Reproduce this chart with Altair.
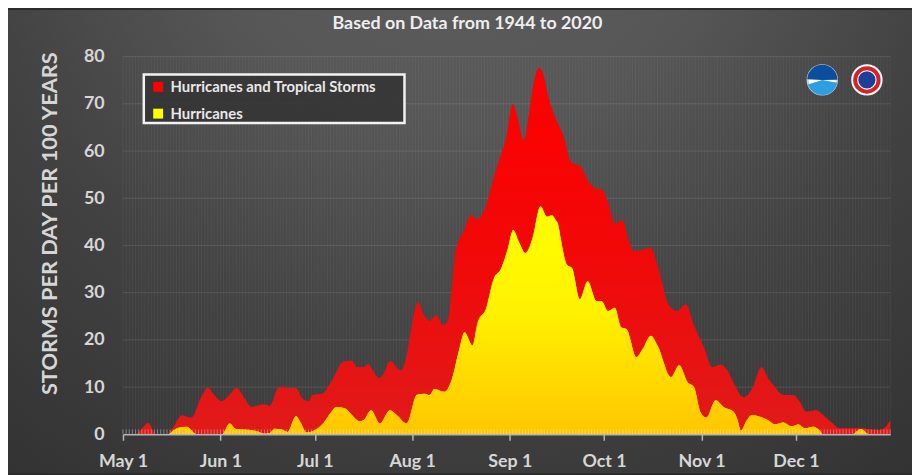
import altair as alt
import pandas as pd

# ---------------- data ----------------
RED_SERIES = "Hurricanes and Tropical Storms"
YEL_SERIES = "Hurricanes"

# day index: 0 = May 1 ... 244 = Dec 31
red_day = [0, 4, 6, 8, 10.5, 14, 16, 18.7, 21.8, 25,
           27, 29, 31.3, 34.5, 36, 38.7, 40.8, 45, 46.6, 49.7,
           52.3, 55, 57, 59.2, 60.2, 63.4, 66.5, 70.2, 72.8, 74.4,
           76.5, 78, 79.1, 81.5, 82.8, 85, 87.5, 88.5, 90.5, 91.7,
           93.8, 95.5, 97.5, 99.6, 101.7, 103.3, 105.9, 108.6, 110.7, 112.5,
           115.4, 118, 120.7, 121.7, 124, 125.4, 127.5, 129, 130.6, 132.4,
           133.5, 135.3, 137.5, 140.6, 141.8, 143.2, 145.3, 148, 150.6, 152.2,
           154, 156.6, 158.8, 160.8, 162.7, 165.3, 167.9, 170, 173.7, 176.3,
           179, 181.6, 184.7, 187.4, 190, 192.1, 194.7, 197.4, 200, 203.1,
           205.2, 207.3, 210, 213.1, 215.2, 217.3, 220.5, 222.6, 225.7, 227.8,
           234, 240.4, 242.5, 244]
red_val = [0, 0, 1.2, 2.4, 0, 0, 1.5, 4.0, 3.5, 8.0,
           9.8, 8.3, 7.0, 8.8, 9.8, 7.6, 5.8, 6.3, 6.0, 10.0,
           9.8, 9.8, 7.6, 7.0, 8.3, 8.6, 11.4, 15.4, 15.6, 14.2,
           14.2, 14.9, 13.9, 11.9, 12.6, 15.5, 13.8, 13.5, 17.5, 22.3,
           27.9, 25.5, 24.0, 25.2, 23.1, 24.0, 39.1, 43.3, 46.4, 45.5,
           48.2, 54.5, 60.1, 62.2, 69.9, 67.1, 62.2, 67.1, 74.1, 77.6,
           76.5, 71.3, 67.0, 62.0, 58.5, 57.3, 56.9, 53.5, 52.0, 51.9,
           49.5, 44.5, 45.4, 41.0, 38.7, 39.1, 39.4, 35.6, 27.2, 26.1,
           27.5, 23.0, 18.5, 14.2, 14.8, 13.6, 10.2, 7.8, 9.5, 14.2,
           11.8, 10.0, 8.3, 8.3, 6.9, 4.8, 5.1, 4.1, 2.3, 1.3,
           1.3, 0.9, 1.5, 3.0]

yel_day = [0, 14.5, 16, 17.7, 20.3, 23.4, 31.5, 33.9, 36, 38.7,
           42.9, 45, 46.5, 48.2, 50.5, 52.3, 55, 56.5, 58.3, 60,
           63.9, 66, 67.8, 70.5, 72.8, 75.2, 76.5, 78.9, 81.7, 84.9,
           87.2, 90.2, 93.5, 96, 97.5, 99, 102.2, 104.3, 107, 108.6,
           111.2, 112.8, 115.4, 118, 120.1, 122.3, 124.1, 125.9, 128, 130.1,
           132.8, 134.8, 136.4, 137.5, 138.5, 139.1, 141.2, 142.8, 145.3, 147.8,
           150.6, 152.2, 154.3, 156.4, 158.5, 160.1, 163.3, 165.3, 167.9, 170,
           174.3, 176.9, 179.5, 181.6, 183.7, 185.5, 188.5, 191, 194.2, 195.5,
           196.5, 198.4, 200, 202.6, 205.2, 207.3, 210, 212.6, 214.8, 216.9,
           219.5, 221.7, 222.6, 232, 234.6, 237.3, 244]
yel_val = [0, 0, 0.8, 1.4, 1.6, 0, 0, 2.3, 1.1, 1.0,
           0.6, 0.1, 0.2, 1.2, 1.0, 0.5, 3.8, 2.5, 0.4, 0.6,
           2.5, 4.5, 5.8, 5.5, 4.1, 2.8, 3.0, 5.1, 2.3, 5.1,
           4.0, 2.3, 8.4, 8.6, 8.3, 9.6, 9.0, 11.1, 18.1, 21.6,
           18.8, 23.7, 26.5, 33.1, 34.9, 39.1, 43.3, 40.8, 38.4, 41.2,
           48.3, 46.1, 46.4, 45.5, 44.2, 41.9, 35.9, 35.2, 28.6, 32.4,
           28.2, 28.2, 26.1, 26.8, 22.6, 22.3, 16.3, 18.1, 20.9, 18.8,
           12.1, 14.6, 11.1, 10.0, 4.6, 3.5, 7.2, 5.8, 4.8, 3.0,
           0.8, 3.0, 4.1, 3.7, 3.0, 2.1, 2.5, 1.7, 2.1, 1.3,
           1.6, 0.7, 0, 0, 1.1, 0, 0]

month_ticks = [0, 31, 61, 92, 123, 153, 184, 214]
month_labels = ["May 1", "Jun 1", "Jul 1", "Aug 1", "Sep 1", "Oct 1", "Nov 1", "Dec 1"]
y_ticks = [0, 10, 20, 30, 40, 50, 60, 70, 80]
all_days = list(range(0, 245))

TITLE = "Based on Data from 1944 to 2020"
Y_TITLE = "STORMS PER DAY PER 100 YEARS"

# ---------------- layout ----------------
W, H = 774, 381
PAD_L, PAD_T, PAD_R, PAD_B = 116, 47, 22, 39
FONT = "Lato"
LABEL_COLOR = "#d6d6d6"
INTERP = "monotone"

red_df = pd.DataFrame({"day": red_day, "value": red_val, "series": RED_SERIES})
yel_df = pd.DataFrame({"day": yel_day, "value": yel_val, "series": YEL_SERIES})
days_df = pd.DataFrame({"day": all_days})
grid_df = pd.DataFrame({"value": y_ticks[1:]})
one = pd.DataFrame({"k": [0]})

label_expr = "[" + ",".join("'%s'" % s for s in month_labels) + "][indexof([" + \
    ",".join(str(v) for v in month_ticks) + "], datum.value)]"

x_axis = alt.Axis(values=month_ticks, labelExpr=label_expr, title=None, grid=False,
                  domainColor="#b4b4b4", domainWidth=1.5, tickColor="#b4b4b4", tickWidth=1.5,
                  tickSize=6, labelFont=FONT, labelFontSize=18, labelFontWeight="bold",
                  labelColor=LABEL_COLOR, labelPadding=12, labelFlush=False, zindex=1)
y_axis = alt.Axis(values=y_ticks, title=Y_TITLE, grid=False, domain=False, ticks=False,
                  tickSize=0, labelFont=FONT, labelFontSize=18, labelFontWeight="bold",
                  labelColor=LABEL_COLOR, labelPadding=19,
                  titleFont=FONT, titleFontSize=22, titleFontWeight="bold", titleColor=LABEL_COLOR,
                  titleAngle=270, titleX=-74, titleY=168, titleAlign="center",
                  titleBaseline="middle", zindex=1)

x_enc = alt.X("day:Q", scale=alt.Scale(domain=[0, 244], nice=False, zero=False), axis=x_axis)
y_enc = alt.Y("value:Q", scale=alt.Scale(domain=[0, 80], nice=False), axis=y_axis, stack=None)

color_enc = alt.Color(
    "series:N",
    scale=alt.Scale(domain=[RED_SERIES, YEL_SERIES], range=["#ff0000", "#ffff00"]),
    legend=alt.Legend(orient="none", legendX=28, legendY=23, direction="vertical", title=None,
                      symbolType="square", symbolSize=100, symbolStrokeWidth=0, symbolOpacity=1,
                      labelFont=FONT, labelFontSize=15, labelFontWeight="bold", labelLimit=500,
                      labelColor="#e8e8e8", rowPadding=11, labelOffset=5, padding=0),
)

# background (radial gradient over whole canvas)
bg = alt.Chart(one).mark_rect(
    fill=alt.RadialGradient(
        gradient="radial",
        stops=[alt.GradientStop(color="#606060", offset=0),
               alt.GradientStop(color="#565656", offset=0.3),
               alt.GradientStop(color="#424242", offset=0.55),
               alt.GradientStop(color="#353535", offset=0.8),
               alt.GradientStop(color="#2a2a2a", offset=1)],
        x1=0.5, y1=0.08, r1=0, x2=0.5, y2=0.08, r2=1.0)
).encode(x=alt.value(-PAD_L), x2=alt.value(W + PAD_R), y=alt.value(-PAD_T), y2=alt.value(H + PAD_B))

vgrid = alt.Chart(days_df).mark_rule(color="#ffffff", opacity=0.05, strokeWidth=1).encode(
    x=x_enc, y=alt.value(0), y2=alt.value(H))
hgrid = alt.Chart(grid_df).mark_rule(color="#ffffff", opacity=0.11, strokeWidth=1).encode(
    y=y_enc, x=alt.value(0), x2=alt.value(W))

red_area = alt.Chart(red_df).mark_area(interpolate=INTERP).encode(x=x_enc, y=y_enc, color=color_enc)
red_grad = alt.Chart(red_df).mark_area(
    interpolate=INTERP,
    fill=alt.LinearGradient(gradient="linear",
                            stops=[alt.GradientStop(color="#ff0000", offset=0),
                                   alt.GradientStop(color="#f20808", offset=0.5),
                                   alt.GradientStop(color="#e01a1a", offset=1)],
                            x1=0, y1=0, x2=0, y2=1)
).encode(x=x_enc, y=y_enc)

yel_area = alt.Chart(yel_df).mark_area(interpolate=INTERP).encode(x=x_enc, y=y_enc, color=color_enc)
yel_grad = alt.Chart(yel_df).mark_area(
    interpolate=INTERP,
    fill=alt.LinearGradient(gradient="linear",
                            stops=[alt.GradientStop(color="#ffff00", offset=0),
                                   alt.GradientStop(color="#fff200", offset=0.45),
                                   alt.GradientStop(color="#ffc600", offset=1)],
                            x1=0, y1=0, x2=0, y2=1)
).encode(x=x_enc, y=y_enc)

mini_ticks = alt.Chart(days_df).mark_rule(color="#ffffff", opacity=0.35, strokeWidth=1).encode(
    x=x_enc, y=alt.value(H), y2=alt.value(H - 5))

legend_box = alt.Chart(one).mark_rect(fill="#333333", fillOpacity=0.85, stroke="#f2f2f2",
                                      strokeWidth=2.5).encode(
    x=alt.value(21), x2=alt.value(284), y=alt.value(18), y2=alt.value(67))

title = alt.Chart(one).mark_text(text=TITLE, font=FONT, fontSize=18, fontWeight="bold",
                                 color="#eeeeee", align="center", baseline="middle").encode(
    x=alt.value(347.5), y=alt.value(-33))

# simple logo badges (NOAA, NWS)
def dot(x, y, size, fill=None, stroke=None, sw=0):
    kw = dict(shape="circle", size=size, opacity=1)
    if fill is not None:
        kw.update(filled=True, fill=fill)
    else:
        kw.update(filled=False)
    if stroke is not None:
        kw.update(stroke=stroke, strokeWidth=sw)
    return alt.Chart(one).mark_point(**kw).encode(x=alt.value(x), y=alt.value(y))

def wedge(x, y, r, t1, t2, fill):
    return alt.Chart(one).mark_arc(fill=fill).encode(
        x=alt.value(x), y=alt.value(y), radius=alt.value(r),
        theta=alt.value(t1), theta2=alt.value(t2))

NX, NY = 705.5, 23.5
WX, WY = 750.5, 23.5
logos = [
    dot(NX, NY, 1000, fill="#c9d1d9"),
    dot(NX, NY, 740, fill="#ffffff"),
    wedge(NX, NY, 15.3, 4.75, 7.85, "#0b4f9c"),
    wedge(NX, NY, 15.3, 1.75, 4.4, "#2d9fe0"),
    dot(WX, WY, 1000, fill="#ffffff"),
    dot(WX, WY, 560, stroke="#d32323", sw=4),
    dot(WX, WY, 300, fill="#1d3f9a"),
]

chart = alt.layer(
    bg, vgrid, hgrid, red_area, red_grad, yel_area, yel_grad, mini_ticks,
    legend_box, title, *logos
).properties(
    width=W, height=H,
    padding={"left": PAD_L, "top": PAD_T, "right": PAD_R, "bottom": PAD_B},
    autosize=alt.AutoSizeParams(type="none"),
    background="#2c2c2c",
).configure_view(stroke=None)

chart.save("out.html", embed_options={"renderer": "svg", "actions": False})
